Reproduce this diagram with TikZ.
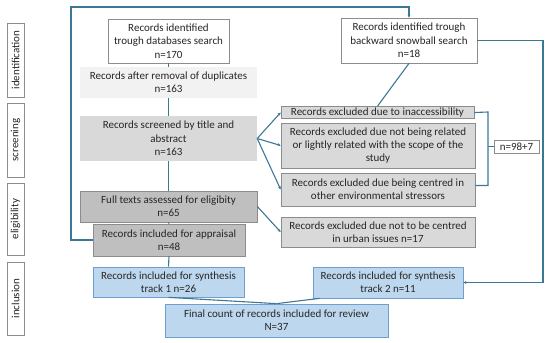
\documentclass[tikz,border=0pt]{standalone}
\usepackage{fontspec}
\setmainfont{Carlito}
\usetikzlibrary{arrows.meta,calc}
\definecolor{lnc}{HTML}{3B7896}
\definecolor{bdg}{HTML}{8C8C8C}
\definecolor{fa}{HTML}{F2F2F2}
\definecolor{fb}{HTML}{D9D9D9}
\definecolor{fc}{HTML}{BFBFBF}
\definecolor{fblue}{HTML}{BDD7EE}
\definecolor{bdblue}{HTML}{6F9FCF}
\definecolor{txt}{HTML}{262626}
\begin{document}
\begin{tikzpicture}[x=1pt,y=-1pt,
  box/.style={rectangle,inner sep=1pt,align=center,text=txt,
    font=\fontsize{11}{13.3}\selectfont},
  wbox/.style={box,draw=bdg,fill=white,line width=0.7pt},
  lbox/.style={box,fill=fa},
  gbox/.style={box,fill=fb},
  gbbox/.style={box,fill=fb,draw=bdg,line width=0.7pt},
  dbox/.style={box,fill=fc,draw=bdg,line width=0.7pt},
  bbox/.style={box,fill=fblue,draw=bdblue,line width=0.7pt},
  side/.style={box,draw=bdg,fill=white,line width=0.7pt,rotate=90,minimum height=17pt},
  conn/.style={draw=lnc,line width=1.1pt},
  arr/.style={conn,-{Stealth[length=3pt,width=3pt]}}]
\useasboundingbox (0,0) rectangle (550,343);
% stage labels
\node[side,minimum width=74pt] (sid) at (15.5,60) {identification};
\node[side,minimum width=74pt] (sscr) at (15.5,140) {screening};
\node[side,minimum width=72pt] (selig) at (15.5,219) {eligibility};
\node[side,minimum width=73pt] (sincl) at (15.5,298.5) {inclusion};
% left column
\node[wbox,minimum width=121pt,minimum height=44pt] (db) at (168.5,41) {Records identified\\trough databases search\\n=170};
\node[lbox,minimum width=177pt,minimum height=31pt] (dup) at (168.5,82.5) {Records after removal of duplicates\\n=163};
\node[gbox,minimum width=177pt,minimum height=45pt] (scr) at (168.5,138.5) {Records screened by title and\\abstract\\n=163};
\node[dbox,minimum width=177pt,minimum height=31pt] (full) at (168.5,206.5) {Full texts assessed for eligibity\\n=65};
\node[dbox,minimum width=152pt,minimum height=32pt] (appr) at (169,240) {Records included for appraisal\\n=48};
\node[bbox,minimum width=151pt,minimum height=30pt] (syn1) at (168.5,282) {Records included for synthesis\\track 1 n=26};
\node[bbox,minimum width=223pt,minimum height=33pt] (final) at (276.5,320.5) {Final count of records included for review\\N=37};
% right column
\node[wbox,minimum width=136pt,minimum height=45pt] (snow) at (409,40.5) {Records identified trough\\backward snowball search\\n=18};
\node[gbbox,minimum width=193pt,minimum height=12pt,inner sep=0pt] (ex1) at (377.5,112.5) {Records excluded due to inaccessibility};
\node[gbbox,minimum width=194pt,minimum height=45pt] (ex2) at (378,145.5) {Records excluded due not being related\\or lightly related with the scope of the\\study};
\node[gbbox,minimum width=194pt,minimum height=33pt] (ex3) at (378,189.5) {Records excluded due being centred in\\other environmental stressors};
\node[gbbox,minimum width=194pt,minimum height=30pt] (ex4) at (378,232) {Records excluded due not to be centred\\in urban issues n=17};
\node[wbox,minimum width=45pt,minimum height=13pt,inner sep=0pt] (n98) at (516.5,146.5) {n=98+7};
\node[bbox,minimum width=150pt,minimum height=31pt] (syn2) at (388,282.5) {Records included for synthesis\\track 2 n=11};
% helper coordinates
\coordinate (lx) at (71,7);
\coordinate (bx) at (488,112);
\coordinate (rx) at (543,40.5);
\coordinate (s2b) at ($(syn2.south west)+(7,0)$);
% connectors
\draw[conn] (db.south) -- (dup.north);
\draw[conn] (dup.south) -- (scr.north);
\draw[conn] (scr.south) -- (full.north);
\draw[conn] (full.south) -- (appr.north);
\draw[conn] (appr.south) -- (syn1.north);
\draw[conn] (syn1.south) -- (final.north);
\draw[conn] (s2b) -- (final.north);
\draw[arr] (scr.east) -- (ex1.west);
\draw[arr] (scr.east) -- (ex2.west);
\draw[arr] (scr.east) -- (ex3.west);
\draw[arr] (full.east) -- (ex4.west);
\draw[conn] (snow.south) -- (ex1.north);
\draw[conn] (ex1.east) -- (bx) |- ($(ex3.east)+(0,-4)$);
\draw[conn] (bx |- n98.west) -- (n98.west);
\draw[arr] (snow.east) -- (rx) |- (syn2.east);
\draw[arr] (appr.west) -| (lx) -| (snow.north);
\end{tikzpicture}
\end{document}
